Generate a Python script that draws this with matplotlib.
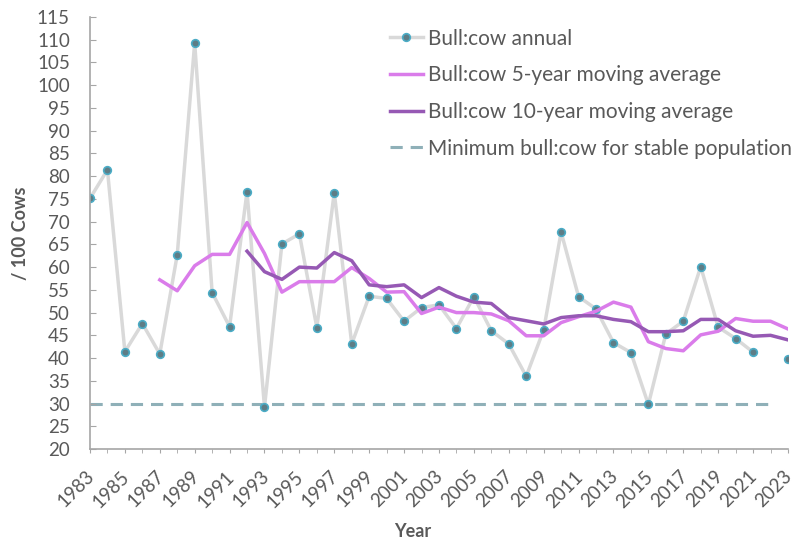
import numpy as np, matplotlib
matplotlib.use('Agg'); import matplotlib.pyplot as plt
from matplotlib.ticker import MultipleLocator
from matplotlib.transforms import ScaledTranslation
plt.rcParams.update({'font.family':['Lato','DejaVu Sans'],'font.size':13.5})

years = np.arange(1983, 2024)
annual = [75.1, 81.4, 41.4, 47.6, 40.9, 62.7, 109.3, 54.4, 46.9, 76.6,
          29.2, 65.1, 67.3, 46.7, 76.4, 43.1, 53.6, 53.1, 48.1, 51.1,
          51.7, 46.5, 53.5, 46.0, 43.1, 36.0, 46.2, 67.7, 53.5, 50.8,
          43.4, 41.2, 29.8, 45.3, 48.1, 60.1, 46.8, 44.3, 41.3, np.nan, 39.8]
ma5_years = np.arange(1987, 2024)
ma5 = [57.2, 54.8, 60.3, 62.8, 62.8, 69.8, 63.0, 54.5, 56.8, 56.8,
       56.8, 59.9, 57.5, 54.5, 54.6, 49.8, 51.2, 50.0, 50.0, 49.7,
       48.2, 44.9, 44.9, 47.8, 49.1, 50.3, 52.3, 51.2, 43.6, 42.1,
       41.6, 45.1, 45.9, 48.7, 48.1, 48.1, 46.4]
ma10_years = np.arange(1992, 2024)
ma10 = [63.5, 59.0, 57.3, 60.0, 59.8, 63.2, 61.4, 56.1, 55.7, 56.1,
        53.3, 55.5, 53.6, 52.3, 52.0, 48.9, 48.2, 47.5, 48.9, 49.3,
        49.3, 48.5, 48.0, 45.8, 45.8, 46.0, 48.5, 48.5, 46.0, 44.8,
        45.0, 44.0]
min_years = [1983, 2022]
min_stable = 30

grey = '#595959'
fig = plt.figure(figsize=(8.02, 5.4), dpi=100)
ax = fig.add_axes([0.1122, 0.1685, 0.8703, 0.8000])
ax.plot(years, annual, '-o', color='#d9d9d9', lw=2.5, ms=5.5, mfc='#5e7d86', mec='#4bacc6', mew=1.2,
        label='Bull:cow annual', zorder=2)
ax.plot(ma5_years, ma5, color='#da7cea', lw=2.5, label='Bull:cow 5-year moving average', zorder=3)
ax.plot(ma10_years, ma10, color='#9659b4', lw=2.5, label='Bull:cow 10-year moving average', zorder=3)
ax.plot(min_years, [min_stable]*2, color='#8fb0b8', lw=2.2, ls=(0, (4, 2.6)),
        label='Minimum bull:cow for stable population', zorder=1)

ax.set_xlim(1983, 2023); ax.set_ylim(20, 115)
ax.yaxis.set_major_locator(MultipleLocator(5))
ax.set_xticks(np.arange(1983, 2024, 2))
ax.set_xticks(years, minor=True)
ax.tick_params(axis='x', which='both', direction='out', length=3, color='#a6a6a6', labelcolor=grey,
               rotation=45, pad=0)
ax.tick_params(axis='y', direction='in', length=4.5, color='#a6a6a6', labelcolor=grey, pad=14.5)
# centre each rotated year label below-left of its tick, as in the original
off = ScaledTranslation(-14/100, -36/100, fig.dpi_scale_trans)
for lab in ax.get_xticklabels():
    lab.set_ha('center'); lab.set_va('center'); lab.set_rotation_mode('anchor')
    lab.set_transform(lab.get_transform() + off)
for s in ['top', 'right']:
    ax.spines[s].set_visible(False)
for s in ['left', 'bottom']:
    ax.spines[s].set_color('#a6a6a6'); ax.spines[s].set_linewidth(1.2)
ax.set_xlabel('Year', fontweight='bold', color=grey, fontsize=13, va='center')
ax.xaxis.set_label_coords(0.463, -0.192)
ax.set_ylabel('/ 100 Cows', fontweight='bold', color=grey, fontsize=13, labelpad=6)

leg = ax.legend(loc='upper right', bbox_to_anchor=(1.024, 1.002), frameon=False, fontsize=15,
                handlelength=1.6, handletextpad=0.25, labelspacing=0.8, borderaxespad=0.2)
for t in leg.get_texts():
    t.set_color(grey)

fig.savefig('out.png', dpi=100)
